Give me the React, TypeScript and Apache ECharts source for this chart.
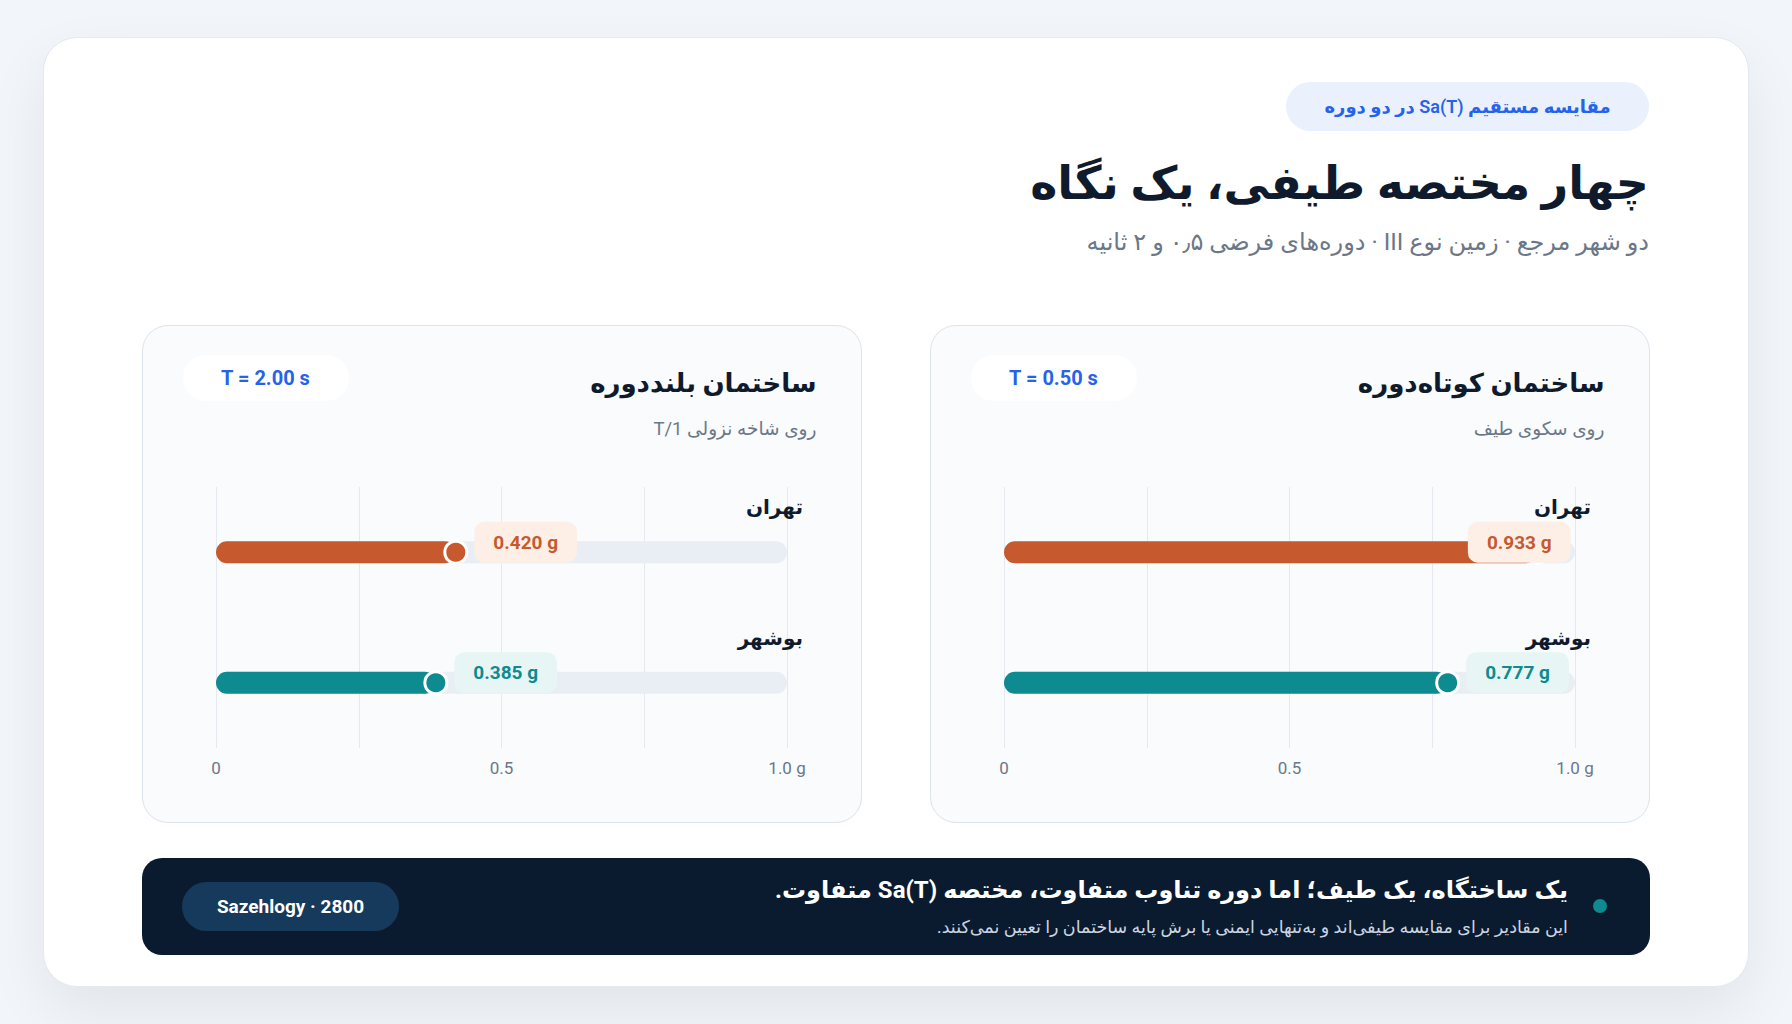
import React, { useEffect, useRef } from 'react';
import * as echarts from 'echarts';

const cities = ['تهران', 'بوشهر'];
const shortPeriodSa = [0.933, 0.777];
const longPeriodSa = [0.42, 0.385];
const xTickValues = [0, 0.5, 1];
const xTickLabels = ['0', '0.5', '1.0 g'];
const cityColors = ['#c65a2e', '#0e8a91'];
const cityLabelBg = ['#fdeee6', '#e7f5f5'];

const FONT = "Roboto, 'DejaVu Sans', sans-serif";
const LABEL_MAX = 0.78;

function BarChart({ values }: { values: number[] }) {
  const ref = useRef<HTMLDivElement>(null);
  useEffect(() => {
    const chart = echarts.init(ref.current as HTMLDivElement, null, { renderer: 'svg' });
    chart.setOption({
      animation: false,
      grid: { left: 74, right: 75, top: 162, height: 261 },
      xAxis: {
        type: 'value',
        min: 0,
        max: 1,
        interval: 0.25,
        axisLine: { show: false },
        axisTick: { show: false },
        splitLine: { show: true, lineStyle: { color: '#e4e9ef', width: 1 } },
        axisLabel: {
          color: '#6b7789',
          fontSize: 17,
          fontFamily: FONT,
          margin: 11,
          formatter: (v: number) => {
            const i = xTickValues.findIndex((t) => Math.abs(t - v) < 1e-9);
            return i >= 0 ? xTickLabels[i] : '';
          },
        },
      },
      yAxis: { type: 'category', data: cities, inverse: true, show: false },
      series: [
        {
          type: 'bar',
          data: cities.map(() => 1),
          barWidth: 22,
          barGap: '-100%',
          itemStyle: { color: '#e9eef4', borderRadius: 11 },
          silent: true,
          z: 1,
          label: {
            show: true,
            position: ['100%', -34],
            align: 'right',
            verticalAlign: 'middle',
            offset: [16, 0],
            formatter: (p: any) => cities[p.dataIndex],
            color: '#0f1b2d',
            fontSize: 20,
            fontWeight: 'bold',
            fontFamily: FONT,
          },
        },
        {
          type: 'bar',
          data: values.map((v, i) => ({ value: v, itemStyle: { color: cityColors[i] } })),
          barWidth: 22,
          barGap: '-100%',
          itemStyle: { borderRadius: 11 },
          z: 2,
        },
        {
          type: 'scatter',
          data: values.map((v, i) => ({ value: [v, i], itemStyle: { color: cityColors[i] } })),
          symbolSize: 22,
          itemStyle: { borderColor: '#ffffff', borderWidth: 3, opacity: 1 },
          z: 3,
        },
        {
          type: 'scatter',
          data: values.map((v, i) => ({
            value: [Math.min(v, LABEL_MAX), i],
            label: { backgroundColor: cityLabelBg[i], color: cityColors[i] },
          })),
          symbolSize: 1,
          itemStyle: { color: 'rgba(0,0,0,0)', opacity: 1 },
          z: 4,
          label: {
            show: true,
            position: 'right',
            distance: 18,
            offset: [0, -10],
            formatter: (p: any) => values[p.dataIndex].toFixed(3) + ' g',
            padding: [10, 19],
            borderRadius: 10,
            fontSize: 19,
            lineHeight: 21,
            fontWeight: 'bold',
            fontFamily: FONT,
          },
        },
      ],
    });
    return () => chart.dispose();
  }, [values]);
  return <div ref={ref} style={{ position: 'absolute', left: 0, top: 0, width: 720, height: 498 }} />;
}

function Panel({ left, title, subtitle, tLabel, values }: any) {
  return (
    <div
      style={{
        position: 'absolute',
        left,
        top: 325,
        width: 720,
        height: 498,
        boxSizing: 'border-box',
        background: '#f9fbfd',
        border: '1.5px solid #dbe4ef',
        borderRadius: 26,
      }}
    >
      <div style={{ position: 'absolute', left: -1.5, top: -1.5, width: 720, height: 498 }}>
        <div
          dir="rtl"
          style={{
            position: 'absolute',
            right: 45,
            top: 40,
            lineHeight: '36px',
            fontSize: 26,
            fontWeight: 700,
            color: '#0f1b2d',
            whiteSpace: 'nowrap',
          }}
        >
          {title}
        </div>
        <div
          dir="rtl"
          style={{
            position: 'absolute',
            right: 45,
            top: 91,
            lineHeight: '26px',
            fontSize: 18.5,
            color: '#6b7789',
            whiteSpace: 'nowrap',
          }}
        >
          {subtitle}
        </div>
        <div
          style={{
            position: 'absolute',
            left: 41,
            top: 30,
            width: 166,
            height: 46,
            borderRadius: 23,
            background: '#ffffff',
            color: '#2563eb',
            fontSize: 20,
            fontWeight: 700,
            lineHeight: '46px',
            textAlign: 'center',
          }}
        >
          {tLabel}
        </div>
        <BarChart values={values} />
      </div>
    </div>
  );
}

export default function App() {
  return (
    <div
      style={{
        position: 'fixed',
        left: 0,
        top: 0,
        width: 1792,
        height: 1024,
        background: '#f2f5f9',
        fontFamily: FONT,
        overflow: 'hidden',
      }}
    >
      <div
        style={{
          position: 'absolute',
          left: 43,
          top: 37,
          width: 1706,
          height: 950,
          boxSizing: 'border-box',
          background: '#ffffff',
          border: '1px solid #e3e9f1',
          borderRadius: 34,
          boxShadow: '0 24px 60px rgba(15, 23, 42, 0.07)',
        }}
      />
      <div
        dir="rtl"
        style={{
          position: 'absolute',
          left: 1286,
          top: 82,
          width: 363,
          height: 49,
          borderRadius: 25,
          background: '#eaf1fd',
          color: '#2563eb',
          fontSize: 18,
          fontWeight: 600,
          lineHeight: '49px',
          textAlign: 'center',
          whiteSpace: 'nowrap',
        }}
      >
        مقایسه مستقیم <span dir="ltr">Sa(T)</span> در دو دوره
      </div>
      <div
        dir="rtl"
        style={{
          position: 'absolute',
          right: 143,
          top: 153,
          lineHeight: '60px',
          fontSize: 46,
          fontWeight: 800,
          color: '#0f1b2d',
          whiteSpace: 'nowrap',
        }}
      >
        چهار مختصه طیفی، یک نگاه
      </div>
      <div
        dir="rtl"
        style={{
          position: 'absolute',
          right: 143,
          top: 226,
          lineHeight: '32px',
          fontSize: 24,
          color: '#6b7789',
          whiteSpace: 'nowrap',
        }}
      >
        دو شهر مرجع · زمین نوع <span dir="ltr">III</span> · دوره‌های فرضی ۰٫۵ و ۲ ثانیه
      </div>

      <Panel
        left={142}
        title="ساختمان بلنددوره"
        subtitle={
          <>
            روی شاخه نزولی <span dir="ltr">T/1</span>
          </>
        }
        tLabel="T = 2.00 s"
        values={longPeriodSa}
      />
      <Panel
        left={930}
        title="ساختمان کوتاه‌دوره"
        subtitle="روی سکوی طیف"
        tLabel="T = 0.50 s"
        values={shortPeriodSa}
      />

      <div
        style={{
          position: 'absolute',
          left: 142,
          top: 858,
          width: 1508,
          height: 97,
          borderRadius: 20,
          background: '#0b1b2f',
        }}
      >
        <div
          style={{
            position: 'absolute',
            left: 1600 - 142 - 7,
            top: 906 - 858 - 7,
            width: 14,
            height: 14,
            borderRadius: 7,
            background: '#0e8a91',
          }}
        />
        <div
          dir="rtl"
          style={{
            position: 'absolute',
            right: 1650 - 1568,
            top: 890 - 858 - 17,
            lineHeight: '34px',
            fontSize: 24,
            fontWeight: 700,
            color: '#ffffff',
            whiteSpace: 'nowrap',
          }}
        >
          یک ساختگاه، یک طیف؛ اما دوره تناوب متفاوت، مختصه <span dir="ltr">Sa(T)</span> متفاوت.
        </div>
        <div
          dir="rtl"
          style={{
            position: 'absolute',
            right: 1650 - 1568,
            top: 927 - 858 - 12,
            lineHeight: '24px',
            fontSize: 17.5,
            color: '#cbd5e1',
            whiteSpace: 'nowrap',
          }}
        >
          این مقادیر برای مقایسه طیفی‌اند و به‌تنهایی ایمنی یا برش پایه ساختمان را تعیین نمی‌کنند.
        </div>
        <div
          style={{
            position: 'absolute',
            left: 182 - 142,
            top: 882 - 858,
            width: 217,
            height: 49,
            borderRadius: 25,
            background: '#163a5c',
            color: '#ffffff',
            fontSize: 19,
            fontWeight: 700,
            lineHeight: '49px',
            textAlign: 'center',
            whiteSpace: 'nowrap',
          }}
        >
          Sazehlogy · 2800
        </div>
      </div>
    </div>
  );
}
